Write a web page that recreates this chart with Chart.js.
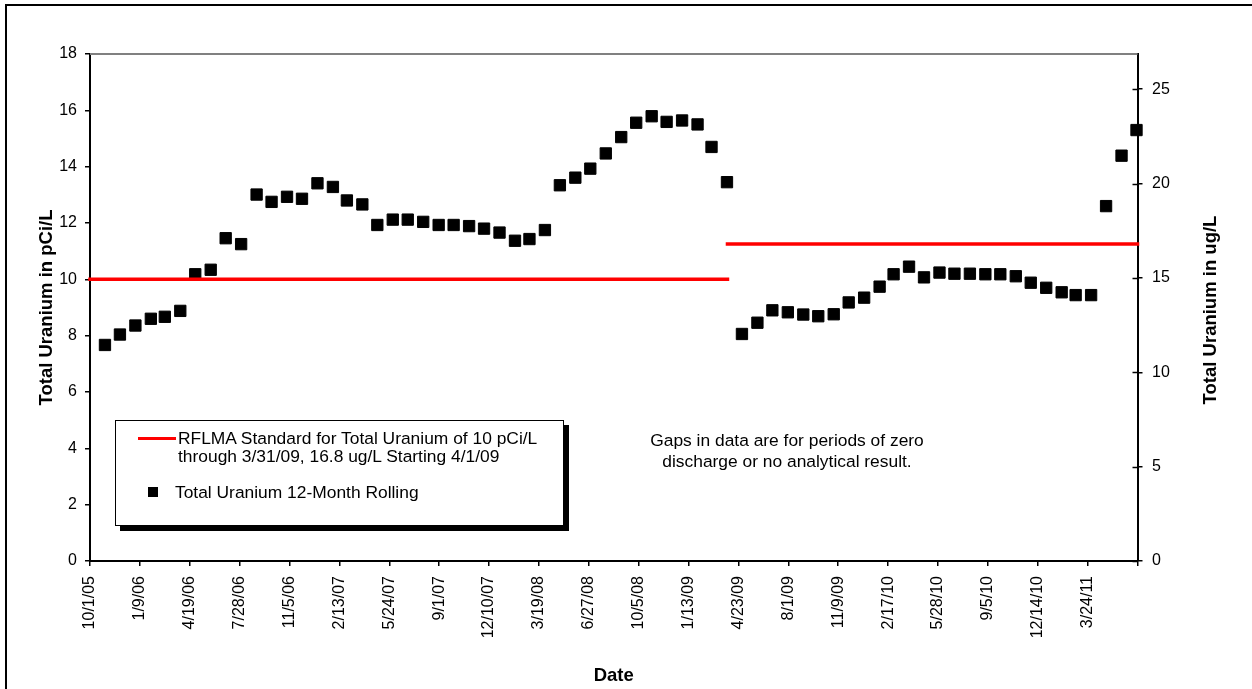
<!DOCTYPE html>
<html>
<head>
<meta charset="utf-8">
<script src="https://cdn.jsdelivr.net/npm/chart.js@4.4.0/dist/chart.umd.min.js"></script>
<style>
    body { margin: 0; background: #fff; }
    #wrap { position: relative; width: 1252px; height: 689px; overflow: hidden; font-family: "Liberation Sans", Arial, sans-serif; color: #000; }
    #frame { position: absolute; left: 5px; top: 4px; width: 1400px; height: 900px; border: 2px solid #000; }
    #chart { position: absolute; left: 0; top: 0; }
    #legendBox { position: absolute; left: 115px; top: 420px; width: 447px; height: 104px; border: 1px solid #000; background: #fff; box-shadow: 5px 5px 0 #000; font-size: 17.4px; }
    #legendBox .line { position: absolute; left: 22px; top: 15.5px; width: 38px; height: 3px; background: #ff0000; }
    #legendBox .sq { position: absolute; left: 32px; top: 66px; width: 10px; height: 10px; background: #000; }
    #legendBox .t1 { position: absolute; left: 62px; top: 7.5px; line-height: 18px; white-space: nowrap; }
    #legendBox .t2 { position: absolute; left: 59px; top: 62px; line-height: 18px; white-space: nowrap; }
    #note { position: absolute; left: 787px; top: 430px; transform: translateX(-50%); text-align: center; font-size: 17.4px; line-height: 21px; white-space: nowrap; }
    #rightTitle { position: absolute; left: 1210px; top: 310px; transform: translate(-50%, -50%) rotate(-90deg); font-weight: bold; font-size: 18.5px; white-space: nowrap; }
</style>
</head>
<body>
<div id="wrap">
    <canvas id="chart" width="1252" height="689"></canvas>
    <div id="frame"></div>
    <div id="legendBox">
        <div class="line"></div>
        <div class="t1">RFLMA Standard for Total Uranium of 10 pCi/L<br>through 3/31/09, 16.8 ug/L Starting 4/1/09</div>
        <div class="sq"></div>
        <div class="t2">Total Uranium 12-Month Rolling</div>
    </div>
    <div id="note">Gaps in data are for periods of zero<br>discharge or no analytical result.</div>
    <div id="rightTitle">Total Uranium in ug/L</div>
</div>
<script>
const FONT = '"Liberation Sans", Arial, sans-serif';

// x axis: days since axisStart, major unit 100 days
const axisStart = '2005-10-01';
const axisEnd = '2011-07-02';
const tickLabels = ['10/1/05', '1/9/06', '4/19/06', '7/28/06', '11/5/06', '2/13/07', '5/24/07',
    '9/1/07', '12/10/07', '3/19/08', '6/27/08', '10/5/08', '1/13/09', '4/23/09', '8/1/09',
    '11/9/09', '2/17/10', '5/28/10', '9/5/10', '12/14/10', '3/24/11'];

// standard: 10 pCi/L through 3/31/09, 16.8 ug/L from 4/1/09
const standardChange = '2009-04-01';
const standardPci = 10;
const standardUg = 16.8;
const pciPerUg = 0.67;
const yMax = 18;

const sampleDates = [
    '2005-10-31', '2005-11-30', '2005-12-31',
    '2006-01-31', '2006-02-28', '2006-03-31', '2006-04-30', '2006-05-31', '2006-06-30',
    '2006-07-31', '2006-08-31', '2006-09-30', '2006-10-31', '2006-11-30', '2006-12-31',
    '2007-01-31', '2007-02-28', '2007-03-31', '2007-04-30', '2007-05-31', '2007-06-30',
    '2007-07-31', '2007-08-31', '2007-09-30', '2007-10-31', '2007-11-30', '2007-12-31',
    '2008-01-31', '2008-02-29', '2008-03-31', '2008-04-30', '2008-05-31', '2008-06-30',
    '2008-07-31', '2008-08-31', '2008-09-30', '2008-10-31', '2008-11-30', '2008-12-31',
    '2009-01-31', '2009-02-28', '2009-03-31', '2009-04-30', '2009-05-31', '2009-06-30',
    '2009-07-31', '2009-08-31', '2009-09-30', '2009-10-31', '2009-11-30', '2009-12-31',
    '2010-01-31', '2010-02-28', '2010-03-31', '2010-04-30', '2010-05-31', '2010-06-30',
    '2010-07-31', '2010-08-31', '2010-09-30', '2010-10-31', '2010-11-30', '2010-12-31',
    '2011-01-31', '2011-02-28', '2011-03-31', '2011-04-30', '2011-05-31', '2011-06-30',
];

// 12-month rolling total uranium, pCi/L (left axis)
const uraniumPci = [
    7.67, 8.04, 8.36,
    8.60, 8.67, 8.88, 10.18, 10.34, 11.46, 11.25, 13.01, 12.75, 12.93, 12.86, 13.41,
    13.28, 12.80, 12.66, 11.93, 12.12, 12.12, 12.04, 11.93, 11.93, 11.89, 11.80, 11.66,
    11.37, 11.43, 11.75, 13.34, 13.61, 13.93, 14.47, 15.05, 15.56, 15.79, 15.59, 15.64,
    15.50, 14.70, 13.45, 8.06, 8.46, 8.90, 8.83, 8.75, 8.69, 8.76, 9.18, 9.35,
    9.74, 10.18, 10.45, 10.07, 10.24, 10.20, 10.20, 10.18, 10.18, 10.11, 9.88, 9.70,
    9.54, 9.44, 9.44, 12.60, 14.39, 15.30,
];

function dayOf(dateStr) {
    return Math.round((Date.parse(dateStr) - Date.parse(axisStart)) / 86400000);
}

const extras = {
    id: 'extras',
    afterDraw(chart) {
        const { ctx, chartArea: a, scales } = chart;
        ctx.save();
        ctx.strokeStyle = '#808080';
        ctx.lineWidth = 2;
        ctx.beginPath();
        ctx.moveTo(a.left, a.top);
        ctx.lineTo(a.right, a.top);
        ctx.stroke();
        // right axis ticks cross the axis
        ctx.strokeStyle = '#000';
        ctx.lineWidth = 1.5;
        scales.y2.ticks.forEach((t) => {
            const y = Math.round(scales.y2.getPixelForValue(t.value)) + 0.5;
            ctx.beginPath();
            ctx.moveTo(a.right - 5, y);
            ctx.lineTo(a.right, y);
            ctx.stroke();
        });
        ctx.restore();
    },
};

const axisFont = { family: FONT, size: 16 };
const titleFont = { family: FONT, size: 18.5, weight: 'bold' };

new Chart(document.getElementById('chart'), {
    type: 'scatter',
    data: {
        datasets: [
            {
                label: 'RFLMA Standard',
                data: [{ x: 0, y: standardPci }, { x: dayOf(standardChange), y: standardPci }],
                showLine: true,
                borderColor: '#ff0000',
                borderWidth: 3.5,
                borderCapStyle: 'square',
                pointRadius: 0,
                clip: false,
                yAxisID: 'y',
            },
            {
                label: 'RFLMA Standard (ug/L)',
                data: [{ x: dayOf(standardChange), y: standardUg }, { x: dayOf(axisEnd), y: standardUg }],
                showLine: true,
                borderColor: '#ff0000',
                borderWidth: 3.5,
                borderCapStyle: 'square',
                pointRadius: 0,
                clip: false,
                yAxisID: 'y2',
            },
            {
                label: 'Total Uranium 12-Month Rolling',
                data: sampleDates.map((d, i) => ({ x: dayOf(d), y: uraniumPci[i] })),
                pointStyle: 'rect',
                pointRadius: 8,
                backgroundColor: '#000',
                borderColor: '#000',
                borderWidth: 1,
                clip: false,
                yAxisID: 'y',
            },
        ],
    },
    options: {
        responsive: false,
        animation: false,
        layout: { padding: { top: 54, left: 0, right: 0, bottom: 0 } },
        plugins: { legend: { display: false }, tooltip: { enabled: false } },
        scales: {
            x: {
                type: 'linear',
                position: 'bottom',
                min: 0,
                max: dayOf(axisEnd),
                ticks: {
                    stepSize: 100,
                    autoSkip: false,
                    minRotation: 90,
                    maxRotation: 90,
                    padding: 10,
                    color: '#000',
                    font: axisFont,
                    callback: (v, i) => tickLabels[i] || '',
                },
                grid: { drawOnChartArea: false, tickLength: 5, color: '#000', lineWidth: 1.5 },
                border: { color: '#000', width: 2 },
                title: { display: true, text: 'Date', color: '#000', font: titleFont, padding: { top: 0, bottom: 2 } },
                afterFit: (s) => { s.height = 128; },
            },
            y: {
                position: 'left',
                min: 0,
                max: yMax,
                ticks: { stepSize: 2, padding: 8, color: '#000', font: axisFont },
                grid: { drawOnChartArea: false, tickLength: 5, color: '#000', lineWidth: 1.5 },
                border: { color: '#000', width: 2 },
                title: { display: true, text: 'Total Uranium in pCi/L', color: '#000', font: titleFont, padding: { top: 35.5, bottom: 0 } },
                afterFit: (s) => { s.width = 90; },
            },
            y2: {
                position: 'right',
                min: 0,
                max: yMax / pciPerUg,
                ticks: { stepSize: 5, includeBounds: false, padding: 9.5, color: '#000', font: axisFont },
                grid: { drawOnChartArea: false, tickLength: 5, color: '#000', lineWidth: 1.5 },
                border: { color: '#000', width: 2 },
                afterFit: (s) => { s.width = 114.5; },
            },
        },
    },
    plugins: [extras],
});
</script>
</body>
</html>
